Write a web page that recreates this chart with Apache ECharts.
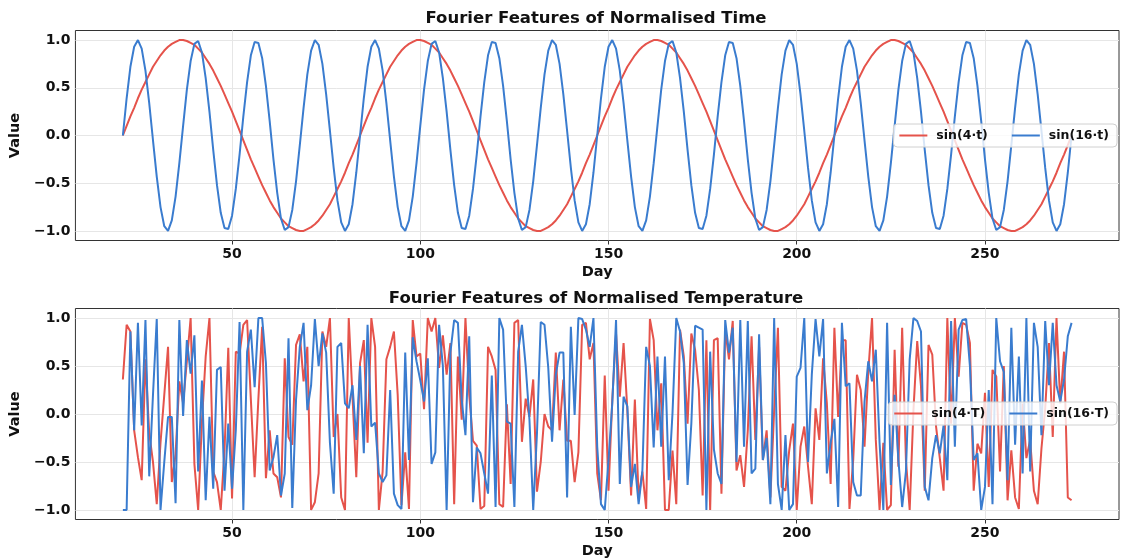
<!DOCTYPE html>
<html><head><meta charset="utf-8">
<script src="https://cdn.jsdelivr.net/npm/echarts@6/dist/echarts.min.js"></script>
<style>html,body{margin:0;padding:0;background:#fff}#c{width:1121px;height:560px}</style>
</head><body><div id="c"></div>
<script>
// ---- data ----
const firstDay = 21;

const titles = ['Fourier Features of Normalised Time', 'Fourier Features of Normalised Temperature'];
const legendNames = [['sin(4·t)', 'sin(16·t)'], ['sin(4·T)', 'sin(16·T)']];
const xTicks = [50, 100, 150, 200, 250];
const yTicks = [-1, -0.5, 0, 0.5, 1];

const sin4t = [
0.00,0.10,0.20,0.29,0.39,0.48,0.56,0.64,0.72,0.78,0.84,0.89,0.93,0.96,0.98,1.00,1.00,0.99,0.97,0.95,0.91,0.87,0.81,0.75,0.68,0.60,0.52,0.43,0.34,0.25,0.15,0.05,-0.05,-0.15,-0.25,-0.34,-0.43,-0.52,-0.60,-0.68,-0.75,-0.81,-0.87,-0.91,-0.95,-0.97,-0.99,-1.00,-1.00,-0.98,-0.96,-0.93,-0.89,-0.84,-0.78,-0.72,-0.64,-0.56,-0.48,-0.39,-0.29,-0.20,-0.10,
0.00,0.10,0.20,0.29,0.39,0.48,0.56,0.64,0.72,0.78,0.84,0.89,0.93,0.96,0.98,1.00,1.00,0.99,0.97,0.95,0.91,0.87,0.81,0.75,0.68,0.60,0.52,0.43,0.34,0.25,0.15,0.05,-0.05,-0.15,-0.25,-0.34,-0.43,-0.52,-0.60,-0.68,-0.75,-0.81,-0.87,-0.91,-0.95,-0.97,-0.99,-1.00,-1.00,-0.98,-0.96,-0.93,-0.89,-0.84,-0.78,-0.72,-0.64,-0.56,-0.48,-0.39,-0.29,-0.20,-0.10,
0.00,0.10,0.20,0.29,0.39,0.48,0.56,0.64,0.72,0.78,0.84,0.89,0.93,0.96,0.98,1.00,1.00,0.99,0.97,0.95,0.91,0.87,0.81,0.75,0.68,0.60,0.52,0.43,0.34,0.25,0.15,0.05,-0.05,-0.15,-0.25,-0.34,-0.43,-0.52,-0.60,-0.68,-0.75,-0.81,-0.87,-0.91,-0.95,-0.97,-0.99,-1.00,-1.00,-0.98,-0.96,-0.93,-0.89,-0.84,-0.78,-0.72,-0.64,-0.56,-0.48,-0.39,-0.29,-0.20,-0.10,
0.00,0.10,0.20,0.29,0.39,0.48,0.56,0.64,0.72,0.78,0.84,0.89,0.93,0.96,0.98,1.00,1.00,0.99,0.97,0.95,0.91,0.87,0.81,0.75,0.68,0.60,0.52,0.43,0.34,0.25,0.15,0.05,-0.05,-0.15,-0.25,-0.34,-0.43,-0.52,-0.60,-0.68,-0.75,-0.81,-0.87,-0.91,-0.95,-0.97,-0.99,-1.00,-1.00,-0.98,-0.96,-0.93,-0.89,-0.84,-0.78,-0.72,-0.64,-0.56,-0.48,-0.39,-0.29,-0.20,-0.10,
0.00
];

const sin16t = [
0.00,0.39,0.72,0.93,1.00,0.91,0.68,0.34,-0.05,-0.43,-0.75,-0.95,-1.00,-0.89,-0.64,-0.29,0.10,0.48,0.78,0.96,0.99,0.87,0.60,0.25,-0.15,-0.52,-0.81,-0.97,-0.98,-0.84,-0.56,-0.20,0.20,0.56,0.84,0.98,0.97,0.81,0.52,0.15,-0.25,-0.60,-0.87,-0.99,-0.96,-0.78,-0.48,-0.10,0.29,0.64,0.89,1.00,0.95,0.75,0.43,0.05,-0.34,-0.68,-0.91,-1.00,-0.93,-0.72,-0.39,
0.00,0.39,0.72,0.93,1.00,0.91,0.68,0.34,-0.05,-0.43,-0.75,-0.95,-1.00,-0.89,-0.64,-0.29,0.10,0.48,0.78,0.96,0.99,0.87,0.60,0.25,-0.15,-0.52,-0.81,-0.97,-0.98,-0.84,-0.56,-0.20,0.20,0.56,0.84,0.98,0.97,0.81,0.52,0.15,-0.25,-0.60,-0.87,-0.99,-0.96,-0.78,-0.48,-0.10,0.29,0.64,0.89,1.00,0.95,0.75,0.43,0.05,-0.34,-0.68,-0.91,-1.00,-0.93,-0.72,-0.39,
0.00,0.39,0.72,0.93,1.00,0.91,0.68,0.34,-0.05,-0.43,-0.75,-0.95,-1.00,-0.89,-0.64,-0.29,0.10,0.48,0.78,0.96,0.99,0.87,0.60,0.25,-0.15,-0.52,-0.81,-0.97,-0.98,-0.84,-0.56,-0.20,0.20,0.56,0.84,0.98,0.97,0.81,0.52,0.15,-0.25,-0.60,-0.87,-0.99,-0.96,-0.78,-0.48,-0.10,0.29,0.64,0.89,1.00,0.95,0.75,0.43,0.05,-0.34,-0.68,-0.91,-1.00,-0.93,-0.72,-0.39,
0.00,0.39,0.72,0.93,1.00,0.91,0.68,0.34,-0.05,-0.43,-0.75,-0.95,-1.00,-0.89,-0.64,-0.29,0.10,0.48,0.78,0.96,0.99,0.87,0.60,0.25,-0.15,-0.52,-0.81,-0.97,-0.98,-0.84,-0.56,-0.20,0.20,0.56,0.84,0.98,0.97,0.81,0.52,0.15,-0.25,-0.60,-0.87,-0.99,-0.96,-0.78,-0.48,-0.10,0.29,0.64,0.89,1.00,0.95,0.75,0.43,0.05,-0.34,-0.68,-0.91,-1.00,-0.93,-0.72,-0.39,
0.00
];

const sin4T = [
0.36,0.93,0.86,-0.17,-0.45,-0.69,0.57,-0.2,-0.5,-0.94,
-0.3,0.2,0.7,-0.71,-0.42,0.34,0.11,0.55,1.0,-0.52,
-1.0,-0.08,0.6,1.0,-0.6,-0.71,-1.0,-0.38,0.69,-0.88,
0.65,0.63,0.93,0.98,0.15,-0.66,0.16,0.91,-0.67,-0.17,
-0.62,-0.66,-0.87,0.58,-0.24,-0.32,0.72,0.83,0.34,0.7,
-1.0,-0.92,-0.62,0.86,0.7,1.0,-0.24,0.0,-0.87,-1.0,
1.0,0.18,-0.66,0.53,0.77,-0.3,1.0,0.7,-1.0,-0.6,
0.57,0.7,0.86,0.2,-0.95,-0.4,-0.99,0.98,0.6,0.63,
0.05,1.0,0.86,1.0,0.48,0.82,0.41,0.74,-0.94,0.6,
-0.06,1.0,0.2,-0.28,-0.33,-0.99,-0.96,0.7,0.6,0.46,
-0.94,-0.97,0.1,-0.73,0.95,0.98,-0.29,0.16,-0.03,0.36,
-0.81,-0.5,0.0,-0.13,-0.17,0.64,-0.17,0.36,-0.28,-0.28,
-0.71,-0.4,0.93,0.95,0.57,0.74,-0.62,-0.9,0.4,-0.8,
0.15,0.84,0.18,0.74,0.04,-0.85,0.15,-0.87,-0.6,-0.99,
0.99,0.77,-0.17,0.32,-1.0,-1.0,-0.38,-0.94,0.88,0.6,
-0.1,0.84,0.67,0.25,-0.85,0.77,-1.0,0.77,0.79,-0.83,
0.88,0.57,0.97,-0.59,-0.43,-0.76,-0.17,0.81,-0.27,0.7,
-0.48,-0.17,-0.87,0.04,0.9,-0.76,-0.8,-0.38,-0.1,-1.0,
-0.34,-0.13,-0.55,-0.94,0.06,-0.27,0.58,0.11,-0.73,0.9,
-0.03,0.77,0.77,-0.99,-0.48,0.41,0.25,-0.34,0.44,1.0,
-0.27,-1.0,-0.3,-1.0,-0.95,0.67,-0.55,0.9,-0.48,-1.0,
0.04,0.76,0.29,-0.8,0.72,0.62,-0.13,-0.46,-0.8,1.0,
-0.1,1.0,0.39,0.95,0.93,0.74,-0.8,-0.31,-0.41,0.22,
-0.76,0.46,0.39,-0.6,0.5,-0.9,-0.38,-0.87,-0.99,0.11,
-0.46,-0.27,-0.8,-0.94,-0.36,0.06,0.74,-0.24,1.0,0.11,
0.65,-0.87,-0.9
];

const sin16T = [
-1.0,-1.0,0.86,-0.17,0.95,-0.12,0.98,-0.65,0.2,0.99,
-1.0,-0.5,-0.03,-0.03,-0.93,0.98,-0.02,0.77,0.42,0.82,
-0.6,0.35,-0.9,-0.03,-0.78,0.46,0.49,-0.8,-0.1,-0.78,
-0.17,0.96,-1.0,0.65,0.88,0.28,1.0,1.0,0.53,-0.59,
-0.45,-0.22,-0.85,-0.62,0.79,-0.98,0.15,0.7,0.95,0.04,
0.3,0.99,0.5,0.84,0.64,-0.3,-0.83,0.7,0.74,0.11,
0.06,0.3,-0.27,0.5,-0.41,0.93,-0.13,-0.09,-0.62,-0.71,
-0.64,0.25,-0.83,-0.95,-0.99,0.64,-0.48,0.8,0.55,0.35,
0.13,0.58,-0.52,-0.4,0.93,0.5,-1.0,0.64,0.98,0.95,
0.15,-0.22,0.81,-0.92,-0.35,-0.41,-0.62,-0.83,0.4,-0.97,
1.0,0.88,-0.08,-0.1,-0.97,0.65,0.93,0.5,-0.06,-1.0,
-0.2,0.96,0.93,0.48,-0.29,0.41,0.64,0.64,-0.87,0.91,
-0.01,1.0,0.99,0.88,0.7,1.0,-0.34,-0.94,-1.0,-0.48,
0.11,0.98,-0.73,0.18,0.08,-0.76,-0.52,-0.94,-0.59,0.7,
0.5,-0.35,0.6,-0.34,0.6,-0.69,0.01,1.0,0.86,0.53,
-0.74,-0.1,0.92,0.9,0.88,-1.0,0.65,-0.37,-0.62,-0.73,
0.98,0.64,0.9,-0.5,0.98,-0.34,0.97,-0.62,-0.57,0.83,
-0.48,-0.25,-0.94,1.0,-0.73,-1.0,-0.22,-1.0,-0.94,0.39,
0.48,1.0,-0.5,0.41,0.99,0.6,0.99,-0.62,-0.3,-0.05,
-0.97,0.95,0.29,0.32,-0.71,-0.85,-0.85,0.13,0.55,0.34,
0.67,-0.3,-1.0,0.95,-0.74,0.2,-0.48,-0.97,-0.6,0.57,
1.0,0.97,0.86,-0.76,-0.9,-0.46,-0.22,-0.41,-0.12,-0.69,
0.97,-0.34,0.88,0.98,0.99,0.5,-0.48,-0.41,-1.0,-0.76,
0.25,-0.94,1.0,0.55,0.44,-0.69,0.9,-0.32,0.6,-0.62,
1.0,-0.6,0.95,0.7,-0.22,0.97,0.3,0.95,0.3,0.13,
0.36,0.81,0.95
];

// ---- chart ----
const days = sin4t.map((_, i) => firstDay + i);
const pairs = arr => arr.map((v, i) => [days[i], v]);

const FONT = 'DejaVu Sans';
const RED = '#E5534B', BLUE = '#3A7CCF';
const TXT = '#111';

const gridDefs = [
  {left: 72, top: 30.5, width: 1047, height: 210},
  {left: 72, top: 308.5, width: 1047, height: 211}
];

function mkX(i) {
  return {
    type: 'value', gridIndex: i, min: 8.4, max: 285.6, position: 'bottom',
    name: 'Day', nameLocation: 'middle', nameGap: 24,
    nameTextStyle: {fontFamily: FONT, fontWeight: 'bold', fontSize: 14.5, color: TXT},
    axisLine: {show: false, onZero: false},
    axisTick: {show: true, length: 4, lineStyle: {color: '#333'}, customValues: xTicks},
    axisLabel: {customValues: xTicks, fontFamily: FONT, fontWeight: 'bold', fontSize: 14, color: TXT, margin: 7},
    splitLine: {show: true, lineStyle: {color: '#e6e6e6', width: 1}}
  };
}
function mkY(i) {
  return {
    type: 'value', gridIndex: i, min: -1.1, max: 1.1,
    name: 'Value', nameLocation: 'middle', nameGap: 49,
    nameTextStyle: {fontFamily: FONT, fontWeight: 'bold', fontSize: 14.5, color: TXT},
    axisLine: {show: false, onZero: false},
    axisTick: {show: false, customValues: yTicks},
    axisLabel: {customValues: yTicks, fontFamily: FONT, fontWeight: 'bold', fontSize: 14, color: TXT, margin: 5,
      formatter: v => v.toFixed(1).replace('-', '\u2212')},
    splitLine: {show: true, lineStyle: {color: '#e6e6e6', width: 1}}
  };
}
function mkLegend(i, top) {
  return {
    data: legendNames[i], right: 4, top: top, orient: 'horizontal',
    icon: 'rect', itemWidth: 28, itemHeight: 2, itemGap: 24,
    backgroundColor: 'rgba(255,255,255,0.8)', borderColor: '#d0d0d0', borderWidth: 1, borderRadius: 4,
    padding: [5, 8, 5, 6],
    textStyle: {fontFamily: FONT, fontWeight: 'bold', fontSize: 12.5, color: TXT, padding: [0, 0, 0, 4]}
  };
}
function mkLine(name, data, color, gi) {
  return {
    name: name, type: 'line', xAxisIndex: gi, yAxisIndex: gi, data: data,
    showSymbol: false, symbol: 'none', smooth: false,
    lineStyle: {width: 2, color: color}, itemStyle: {color: color},
    emphasis: {disabled: true}
  };
}

const chart = echarts.init(document.getElementById('c'), null, {renderer: 'canvas'});
chart.setOption({
  animation: false,
  backgroundColor: '#fff',
  title: [
    {text: titles[0], left: 596, top: 10, textAlign: 'center', padding: 0,
     textStyle: {fontFamily: FONT, fontWeight: 'bold', fontSize: 16.5, color: TXT}},
    {text: titles[1], left: 596, top: 290, textAlign: 'center', padding: 0,
     textStyle: {fontFamily: FONT, fontWeight: 'bold', fontSize: 16.5, color: TXT}}
  ],
  grid: gridDefs.map(g => Object.assign({show: true, borderColor: '#333', borderWidth: 1, backgroundColor: 'transparent', containLabel: false}, g)),
  xAxis: [mkX(0), mkX(1)],
  yAxis: [mkY(0), mkY(1)],
  legend: [mkLegend(0, 124), mkLegend(1, 402)],
  series: [
    mkLine(legendNames[0][0], pairs(sin4t), RED, 0),
    mkLine(legendNames[0][1], pairs(sin16t), BLUE, 0),
    mkLine(legendNames[1][0], pairs(sin4T), RED, 1),
    mkLine(legendNames[1][1], pairs(sin16T), BLUE, 1)
  ]
});
</script>
</body></html>
